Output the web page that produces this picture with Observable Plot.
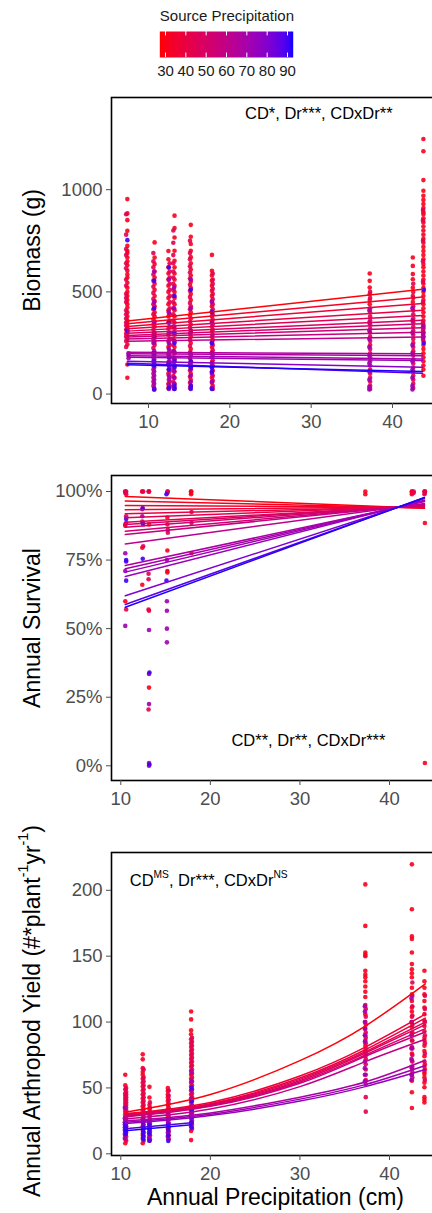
<!DOCTYPE html>
<html><head><meta charset="utf-8">
<script src="https://cdn.jsdelivr.net/npm/d3@7"></script>
<script src="https://cdn.jsdelivr.net/npm/@observablehq/plot@0.6"></script>
<style>
html,body{margin:0;padding:0;background:#fff;overflow:hidden;width:432px;}
#chart svg{display:block;max-width:none !important;overflow:visible;}
</style></head><body><div id="chart"></div>
<script>
// ---------- DATA ----------
const LO = 27.2, HI = 92.8;               // source precipitation range (colour bar limits)
const sourceBreaks = [30, 40, 50, 60, 70, 80, 90];

// Biomass points: [site precipitation, source precipitation, biomass values]
const biomassPts = [
  [7.4, 31, [954, 884, 851, 799, 725, 700, 690, 668, 650, 630, 603, 585, 570, 545, 520, 500, 480, 460, 440, 423, 400, 380, 360, 345, 330, 320, 310, 300, 285, 270, 243, 145, 80]],
  [7.25, 44, [880, 780, 710, 680, 640, 615, 560, 530, 490, 470, 450, 410, 390, 370, 350, 335, 315, 295, 280, 260, 230]],
  [7.55, 72, [200, 190, 175]],
  [7.4, 90, [753, 310]],
  [10.75, 31, [742, 668, 636, 600, 570, 540, 510, 480, 455, 430, 400, 380, 355, 330, 300, 280, 260, 240]],
  [10.6, 44, [690, 650, 620, 585, 555, 525, 495, 465, 440, 415, 390, 365, 340, 315, 290, 270, 250, 225, 200, 180, 160, 140, 120, 100, 80, 60, 40]],
  [10.7, 72, [600, 450, 350, 300, 250, 210, 190, 170, 150, 130, 110, 90, 70, 50, 30, 23]],
  [10.7, 90, [554, 420, 280, 200, 160, 140, 23]],
  [12.45, 31, [700, 660, 620, 590, 560, 530, 500, 470, 440, 410, 380, 350, 320, 290, 260, 230, 200, 150, 100, 50, 30]],
  [12.6, 44, [640, 600, 570, 540, 510, 480, 450, 420, 390, 360, 330, 300, 270, 240, 210, 180, 160, 130, 110, 80, 60, 40]],
  [12.5, 72, [560, 400, 300, 250, 220, 190, 160, 140, 120, 90, 70, 45, 25]],
  [12.5, 90, [620, 350, 180, 150, 120, 30]],
  [13.2, 31, [873, 812, 766, 701, 652, 620, 590, 560, 530, 500, 470, 440, 410, 380, 350, 320, 290, 260, 230, 200, 170, 140, 110, 80, 50, 30]],
  [13.05, 44, [800, 740, 680, 640, 600, 570, 540, 510, 480, 450, 420, 390, 360, 330, 300, 270, 240, 210, 180, 150, 120, 90, 60, 35]],
  [13.15, 72, [520, 420, 330, 260, 210, 170, 140, 110, 80, 50, 25]],
  [13.2, 90, [480, 300, 250, 160, 130, 40, 25]],
  [15.2, 31, [828, 770, 734, 701, 670, 640, 610, 580, 550, 520, 490, 460, 430, 400, 370, 340, 310, 280, 250, 220, 190, 160, 130, 100, 70, 40]],
  [15.1, 44, [750, 690, 660, 625, 595, 565, 535, 505, 475, 445, 415, 385, 355, 325, 295, 265, 235, 205, 175, 145, 115, 85, 55, 30]],
  [15.2, 72, [560, 420, 300, 200, 150, 120, 90, 60, 35]],
  [15.2, 90, [510, 310, 160, 130, 40, 25]],
  [17.8, 31, [681, 603, 580, 555, 530, 505, 480, 455, 430, 405, 380, 355, 330, 305, 280, 255, 230, 205, 180, 155, 130, 105, 80, 55, 30]],
  [17.9, 44, [590, 560, 540, 515, 490, 465, 440, 415, 390, 365, 340, 315, 290, 265, 240, 215, 190, 165, 140, 115, 90, 65, 40, 25]],
  [17.8, 72, [450, 350, 250, 200, 150, 100, 60, 30]],
  [17.8, 90, [400, 250, 130, 110, 25]],
  [37.2, 31, [590, 554, 521, 489, 460, 440]],
  [37.25, 44, [500, 470, 420, 400, 380, 360, 340, 320, 300, 280, 260, 240, 220, 200, 180, 160, 140, 120, 100, 80, 60, 40, 25]],
  [37.15, 72, [410, 350, 310, 270, 230, 190, 150, 110, 70, 35, 23]],
  [42.5, 31, [668, 627, 587, 562, 520, 480, 450]],
  [42.55, 44, [540, 500, 470, 430, 410, 390, 370, 350, 330, 310, 290, 270, 250, 230, 210, 190, 170, 150, 130, 110, 90, 70, 50, 30]],
  [42.45, 72, [420, 360, 300, 240, 200, 160, 120, 80, 40, 23]],
  [43.8, 31, [1248, 1188, 1047, 995, 970, 950, 930, 910, 890, 880, 860, 840, 820, 800, 780, 760, 740, 720, 700, 680, 660, 636, 620, 600, 580, 560, 540, 520, 500, 480, 460, 440, 420, 400, 380, 360, 340, 320, 300, 280, 260, 240, 220, 200, 180, 160, 140, 120, 90]],
  [43.75, 44, [900, 850, 750, 650, 550, 450, 350, 330, 310, 290, 270]],
  [43.8, 72, [330, 300, 280]],
  [43.85, 90, [250, 510]]
];
// Biomass fitted lines
const biomassLineX = [7.4, 43.7];
const biomassLineSrc = [28, 33, 37, 41, 45, 49, 52, 55, 58, 61, 66, 68, 70, 73, 78, 88, 92];
const biomassLineStart = [357, 344, 331, 320, 308, 298, 287, 279, 270, 259, 205, 197, 188, 180, 161, 151, 144];
const biomassLineEnd = [513, 475, 443, 410, 385, 361, 344, 325, 303, 279, 197, 188, 172, 164, 131, 102, 110];

// Survival points
const survivalPts = [
  [10.5, 31, [1.0, 1.0, 0.995, 0.88, 0.875, 0.6]],
  [10.6, 44, [1.0, 0.99, 0.91, 0.885, 0.57]],
  [10.5, 72, [0.775, 0.71, 0.51]],
  [10.6, 90, [0.75, 0.745, 0.675, 0.9]],
  [12.4, 31, [1.0, 1.0, 0.89, 0.795, 0.66]],
  [12.5, 44, [1.0, 0.88, 0.8]],
  [12.4, 72, [0.935, 0.91]],
  [12.45, 90, [0.94, 0.885, 0.755]],
  [13.15, 31, [1.0, 1.0, 0.88, 0.285, 0.565]],
  [13.1, 44, [1.0, 0.7, 0.68, 0.57, 0.205]],
  [13.15, 72, [0.495, 0.335, 0.225, 0.01, 0.0]],
  [13.2, 90, [0.34, 0.005]],
  [15.2, 31, [1.0, 0.995, 0.905, 0.88, 0.785, 0.71, 0.705]],
  [15.25, 44, [1.0, 0.86, 0.85]],
  [15.15, 72, [0.75, 0.6, 0.565, 0.5, 0.45]],
  [15.1, 90, [0.99, 0.675]],
  [17.85, 31, [1.0, 1.0, 0.995, 0.99]],
  [17.9, 44, [0.925, 0.885, 0.775]],
  [37.3, 31, [1.0, 0.99]],
  [42.5, 31, [1.0, 1.0, 0.995, 0.99]],
  [42.7, 44, [1.0, 0.995]],
  [43.95, 31, [1.0, 1.0, 0.995, 0.885, 0.01]],
  [43.9, 44, [1.0, 0.99]]
];
const survivalLineX = [10.5, 43.9];
const survivalLineSrc = [28, 31, 34, 37, 40, 43, 46, 49, 52, 55, 58, 62, 68, 70, 72, 74, 80, 87, 92];
const survivalLineStart = [0.982, 0.965, 0.949, 0.933, 0.919, 0.904, 0.888, 0.88, 0.87, 0.855, 0.843, 0.809, 0.73, 0.718, 0.706, 0.69, 0.62, 0.588, 0.578];
const survivalLineEnd = [0.939, 0.94, 0.942, 0.944, 0.945, 0.947, 0.948, 0.949, 0.95, 0.952, 0.953, 0.956, 0.963, 0.965, 0.966, 0.968, 0.974, 0.977, 0.978];

// Arthropod yield points
const arthroPts = [
  [10.5, 31, [60, 52, 49, 46, 44, 42, 40, 38, 36, 34, 32, 30, 28, 26, 24, 22, 20, 17, 14, 11, 8]],
  [10.6, 44, [50, 47, 45, 43, 41, 39, 37, 35, 33, 31, 29, 27, 25, 23, 21, 19, 16, 13, 10]],
  [10.45, 72, [35, 27, 24, 22, 20, 18, 15, 12]],
  [10.55, 90, [23, 21, 19, 17, 15]],
  [12.45, 31, [75.5, 71.7, 65, 62, 60, 57, 54, 51, 48, 45, 42, 39, 36, 33, 30, 27, 24, 21, 18, 15, 12, 8]],
  [12.55, 44, [64, 58, 55, 52, 49, 46, 43, 40, 37, 34, 31, 28, 25, 22, 19, 16, 13, 10]],
  [12.5, 72, [30, 26, 22, 19, 16, 13]],
  [12.5, 90, [24, 20, 17, 14, 11]],
  [13.2, 31, [50.8, 42.7, 37, 34, 31, 28, 25, 22, 19, 16, 13, 10]],
  [13.25, 44, [39, 35, 32, 29, 26, 23, 20, 17, 14, 11]],
  [13.15, 72, [24, 20, 16, 12]],
  [13.2, 90, [22, 18, 15, 10]],
  [15.25, 31, [50, 47.7, 45, 42.7, 40, 37, 34, 31, 28, 25, 22, 19, 16, 13]],
  [15.35, 44, [48, 44, 41, 38, 35, 32, 29, 26, 23, 20, 17, 14, 11]],
  [15.3, 72, [30, 24, 20, 16, 12]],
  [15.3, 90, [22, 18, 14, 9.8]],
  [17.85, 31, [108, 102, 93.7, 90.7, 87, 84, 81, 78, 75, 72, 69, 66, 63, 60, 57, 54, 51, 48, 45, 42, 39, 36, 33, 30, 27, 24, 21, 17.4, 10.4]],
  [17.95, 44, [88, 85, 82, 79, 76, 73, 70, 67, 64, 61, 58, 55, 52, 49, 46, 43, 40, 37, 34, 31, 28, 25, 22, 19]],
  [17.9, 72, [62, 55, 48, 42, 36, 31, 27, 23]],
  [17.9, 90, [50, 40, 33, 28, 24, 20]],
  [37.3, 31, [204.5, 173, 152.8, 151, 150, 139, 136, 134, 131, 127, 123, 119, 113, 106, 100, 95, 90, 86, 82, 78, 74]],
  [37.35, 44, [110, 104, 98, 92, 88, 84, 80, 76, 72, 68, 64, 60, 56, 53, 43, 32]],
  [37.25, 72, [112, 108, 100, 95, 90, 85, 70, 65, 60, 55]],
  [42.5, 31, [219.7, 185.6, 165, 163, 152.8, 144, 140, 137, 134, 126, 121, 116, 111, 108, 104, 100, 96, 91, 86, 81, 76, 70.7, 65, 60, 55.5, 46.7, 34.8]],
  [42.55, 44, [130, 120, 112, 105, 98, 92, 86, 80, 75, 70, 66, 62, 58]],
  [42.45, 72, [118, 100, 90, 80, 72, 66, 60, 56]],
  [43.9, 31, [139, 131, 126, 121, 116, 111, 106, 101, 97, 93, 88, 86, 82, 78, 74, 70, 66, 62, 60.6, 58, 54, 50.5, 43, 41, 39]],
  [43.95, 44, [120, 110, 100, 90, 84, 76, 68, 64, 56]]
];
// Arthropod fitted curves: [source, x positions, yields]
const arthroXFull = [10.5, 20, 30, 37.3, 44];
const arthroXShort = [10.5, 17.9];
const arthroLines = [
  [28, arthroXFull, [31.6, 45, 70.7, 97, 129]],
  [36, arthroXFull, [30.5, 39, 59, 81, 106]],
  [40, arthroXFull, [30, 38, 57.5, 79, 103]],
  [44, arthroXFull, [29.5, 37.5, 56.5, 77.5, 100]],
  [48, arthroXFull, [29, 37, 55.5, 76.5, 98]],
  [52, arthroXFull, [28.5, 36.5, 54.5, 75, 95]],
  [56, arthroXFull, [28, 36, 53.5, 74, 92.5]],
  [60, arthroXFull, [26.5, 34, 51, 70, 87]],
  [68, arthroXFull, [25, 31, 43, 54.5, 71]],
  [72, arthroXFull, [24, 30, 41.5, 52.5, 67]],
  [75, arthroXFull, [23, 29, 40, 51, 64]],
  [88, arthroXShort, [19, 23.5]],
  [92, arthroXShort, [17.5, 22]]
];

// ---------- HELPERS ----------
const font = "'Liberation Sans', Arial, Helvetica, sans-serif";
const colorScale = {type: "linear", domain: [LO, HI], range: ["red", "blue"], interpolate: "lab", clamp: true};
const flatten = rows => rows.flatMap(([x, src, ys]) => ys.map(y => ({x, y, src})));
const straight = (xs, srcs, a, b) => srcs.flatMap((s, i) => [{id: i, src: s, x: xs[0], y: a[i]}, {id: i, src: s, x: xs[1], y: b[i]}]);
const curves = rows => rows.flatMap(([src, xs, ys], i) => ys.map((y, j) => ({id: i, src, x: xs[j], y})));
const baseStyle = {fontFamily: font, background: "white", overflow: "visible", maxWidth: "none"};
const TICK = "#4d4d4d";

function panel({height, marginTop, marginBottom, xDomain, yDomain, yTicks, yFormat, points, lines, curve, annot, ylabel, ylabelDy = 0, xlabel}) {
  const marks = [
    Plot.dot(points, {x: "x", y: "y", fill: "src", r: 2.3, fillOpacity: 0.9}),
    Plot.line(lines, {x: "x", y: "y", z: "id", stroke: "src", strokeWidth: 1.5, curve: curve || "linear"}),
    Plot.frame({stroke: "black", strokeWidth: 1.6}),
    Plot.axisX({ticks: [10, 20, 30, 40], tickSize: 5, tickPadding: 6, fontSize: 18.5, color: TICK, label: null}),
    Plot.axisY({ticks: yTicks, tickFormat: yFormat, tickSize: 5, tickPadding: 4, fontSize: 18.5, color: TICK, label: null}),
    Plot.text([ylabel], {text: d => d, frameAnchor: "left", textAnchor: "middle", lineAnchor: "middle", rotate: -90, dx: -79, dy: ylabelDy, fontSize: 23, fill: "black"}),
    Plot.text([annot.text], {text: d => d, x: annot.x, y: annot.y, textAnchor: annot.anchor, lineAnchor: "middle", fontSize: 16.5, fill: "black"})
  ];
  if (xlabel) marks.push(Plot.text([xlabel], {text: d => d, frameAnchor: "bottom", textAnchor: "middle", lineAnchor: "middle", dy: 42, fontSize: 23, fill: "black"}));
  return Plot.plot({
    width: 441, height, marginTop, marginBottom, marginLeft: 111, marginRight: 2,
    style: baseStyle,
    x: {domain: xDomain},
    y: {domain: yDomain},
    color: colorScale,
    marks
  });
}

function superscripts(svg) {
  d3.select(svg).selectAll("text").each(function () {
    const t = this.textContent;
    if (!t.includes("{")) return;
    const fs = parseFloat(getComputedStyle(this).fontSize);
    const shift = fs * 0.5;
    const parts = t.split(/\{([^}]*)\}/);
    const sel = d3.select(this);
    sel.text(null);
    let raised = false;
    parts.forEach((p, i) => {
      if (!p) return;
      const ts = sel.append("tspan").text(p);
      if (i % 2) { ts.attr("font-size", fs * 0.62).attr("dy", -shift); raised = true; }
      else if (raised) { ts.attr("dy", shift); raised = false; }
    });
  });
}

// ---------- BUILD ----------
const root = document.getElementById("chart");

const legend = Plot.plot({
  width: 432, height: 85, margin: 0,
  style: baseStyle,
  x: {domain: [LO, HI], range: [159.3, 292.7], axis: null},
  y: {domain: [0, 1], range: [57, 31], axis: null},
  color: colorScale,
  marks: [
    Plot.raster({fill: (x) => x, x1: LO, x2: HI, y1: 0, y2: 1, width: 134, height: 1}),
    Plot.ruleX(sourceBreaks, {x: d => d, y1: 0, y2: 0.17, stroke: "white", strokeWidth: 1}),
    Plot.ruleX(sourceBreaks, {x: d => d, y1: 0.83, y2: 1, stroke: "white", strokeWidth: 1}),
    Plot.text(sourceBreaks, {x: d => d, y: -0.52, text: d => String(d), fontSize: 15, fill: "#1a1a1a"}),
    Plot.text(["Source Precipitation"], {x: LO, y: 1.6, text: d => d, textAnchor: "start", fontSize: 15, fill: "#1a1a1a"})
  ]
});
root.appendChild(legend);

const p1 = panel({
  height: 358, marginTop: 12, marginBottom: 40,
  xDomain: [5.451, 45.779], yDomain: [-46.1, 1451],
  yTicks: [0, 500, 1000], yFormat: d => String(d),
  points: flatten(biomassPts),
  lines: straight(biomassLineX, biomassLineSrc, biomassLineStart, biomassLineEnd),
  annot: {text: "CD*, Dr***, CDxDr**", x: 30.94, y: 1373, anchor: "middle"},
  ylabel: "Biomass (g)"
});
root.appendChild(p1);

const p2 = panel({
  height: 367, marginTop: 32, marginBottom: 30,
  xDomain: [8.962, 45.582], yDomain: [-0.0536, 1.0583],
  yTicks: [0, 0.25, 0.5, 0.75, 1], yFormat: d3.format(".0%"),
  points: flatten(survivalPts),
  lines: straight(survivalLineX, survivalLineSrc, survivalLineStart, survivalLineEnd),
  annot: {text: "CD**, Dr**, CDxDr***", x: 30.95, y: 0.092, anchor: "middle"},
  ylabel: "Annual Survival"
});
root.appendChild(p2);

const p3 = panel({
  height: 403, marginTop: 42, marginBottom: 58,
  xDomain: [8.962, 45.582], yDomain: [-1.29, 228.7],
  yTicks: [0, 50, 100, 150, 200], yFormat: d => String(d),
  points: flatten(arthroPts),
  lines: curves(arthroLines), curve: "natural",
  annot: {text: "CD{MS}, Dr***, CDxDr{NS}", x: 11.0, y: 207.3, anchor: "start"},
  ylabel: "Annual Arthropod Yield (#*plant{-1}yr{-1})", ylabelDy: 7,
  xlabel: "Annual Precipitation (cm)"
});
root.appendChild(p3);
superscripts(p3);
</script></body></html>
